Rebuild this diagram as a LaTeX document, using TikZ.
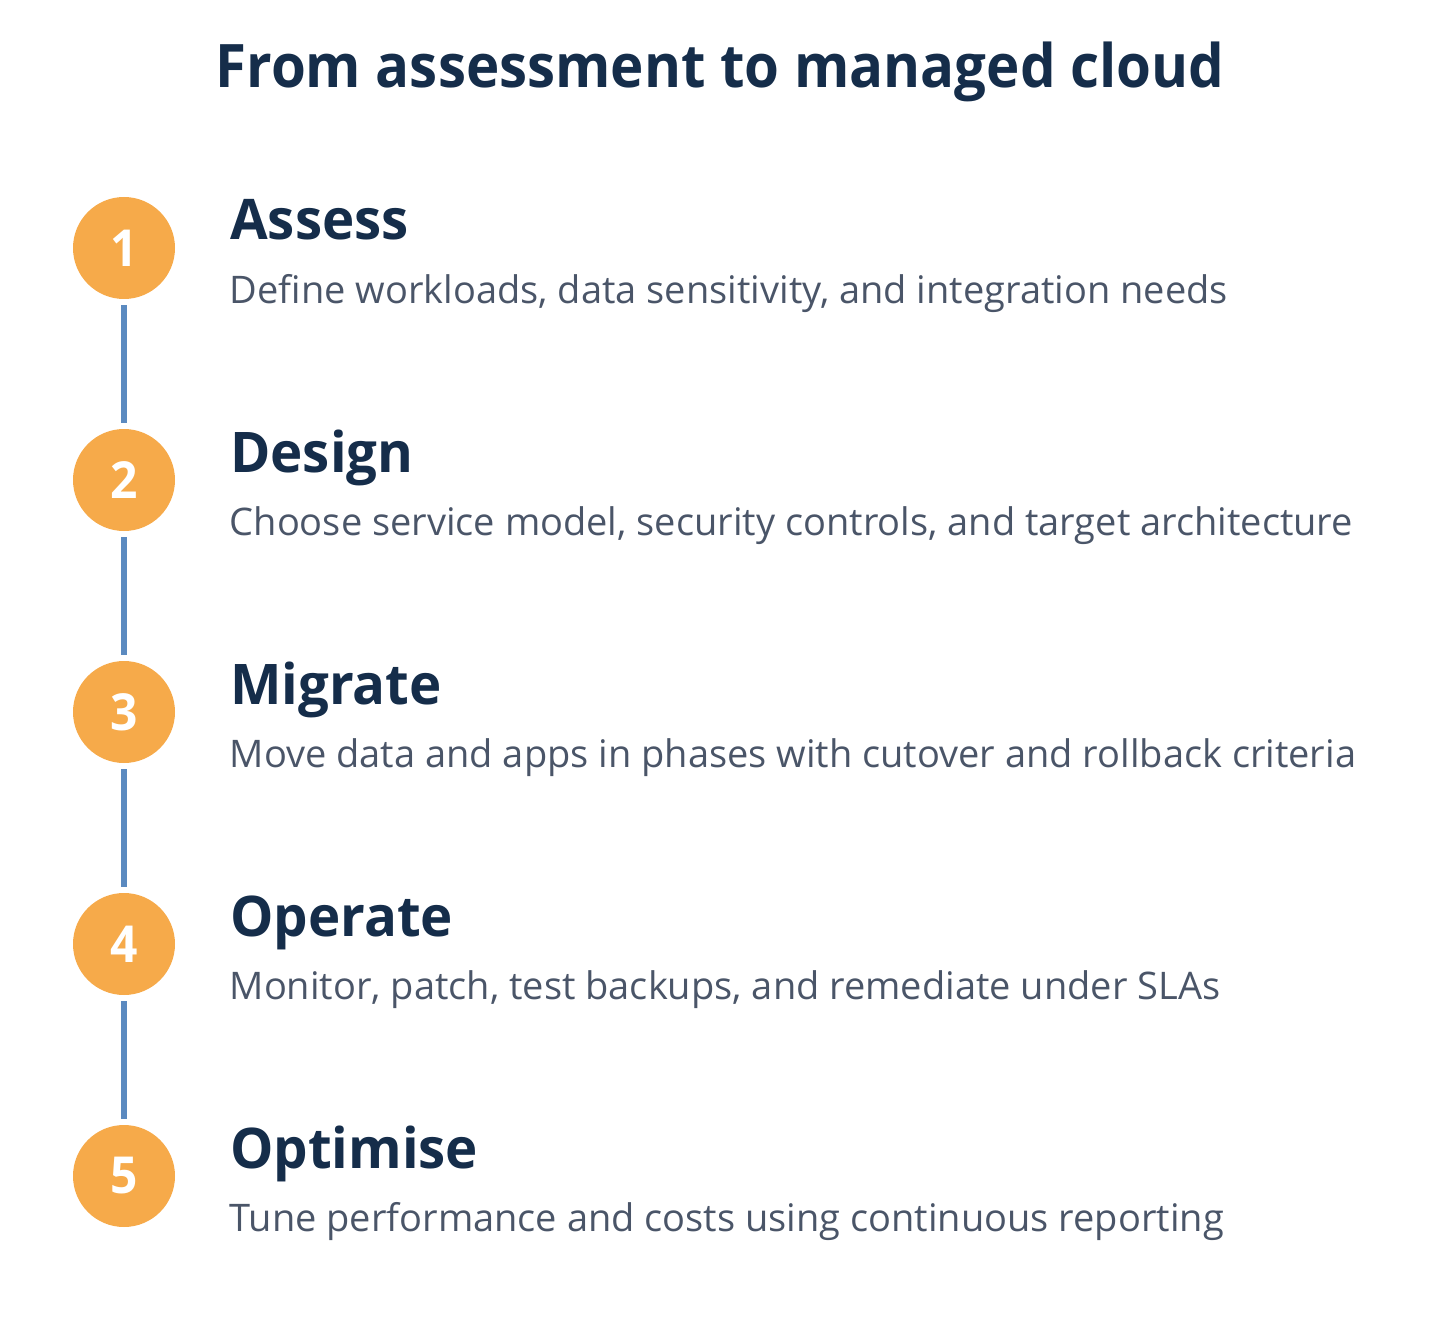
\documentclass[tikz,border=0pt]{standalone}
\usepackage{fontspec}
\setmainfont{Open Sans}[BoldFeatures={FakeStretch=0.94}]
\newfontfamily\headfont{Open Sans}[BoldFeatures={FakeStretch=0.975}]
\definecolor{orng}{HTML}{F6AA4A}
\definecolor{navy}{HTML}{152D4A}
\definecolor{slate}{HTML}{4A5568}
\definecolor{linkblue}{HTML}{5B8AC0}
\tikzset{
  stepcircle/.style={circle,fill=orng,minimum size=102pt,inner sep=0pt,text=white,font=\fontsize{51}{51}\selectfont\bfseries},
  headtext/.style={anchor=base west,inner sep=0pt,text=navy,font=\fontsize{56}{56}\headfont\bfseries},
  desctext/.style={anchor=base west,inner sep=0pt,text=slate,font=\fontsize{38}{38}\selectfont},
  titletext/.style={anchor=base,inner sep=0pt,text=navy,font=\fontsize{60}{60}\selectfont\bfseries},
  linkline/.style={draw=linkblue,line width=6pt}
}
\begin{document}
\begin{tikzpicture}[x=1pt,y=-1pt]
\useasboundingbox (0,0) rectangle (1440,1324);
\node[titletext] (title) at (720,88) {From assessment to managed cloud};
\foreach \i/\h/\d in {1/Assess/{Define workloads, data sensitivity, and integration needs},
                      2/Design/{Choose service model, security controls, and target architecture},
                      3/Migrate/{Move data and apps in phases with cutover and rollback criteria},
                      4/Operate/{Monitor, patch, test backups, and remediate under SLAs},
                      5/Optimise/{Tune performance and costs using continuous reporting}}{
  \pgfmathsetmacro{\cy}{248+232*(\i-1)}
  \node[stepcircle] (c\i) at (124,\cy) {\i};
  \node[headtext] (h\i) at (230,\cy-8) {\h};
  \node[desctext] (d\i) at (229.5,\cy+55) {\d};
}
\foreach \a/\b in {1/2,2/3,3/4,4/5}{
  \draw[linkline] ([yshift=-6pt]c\a.south) -- ([yshift=6pt]c\b.north);
}
\end{tikzpicture}
\end{document}
